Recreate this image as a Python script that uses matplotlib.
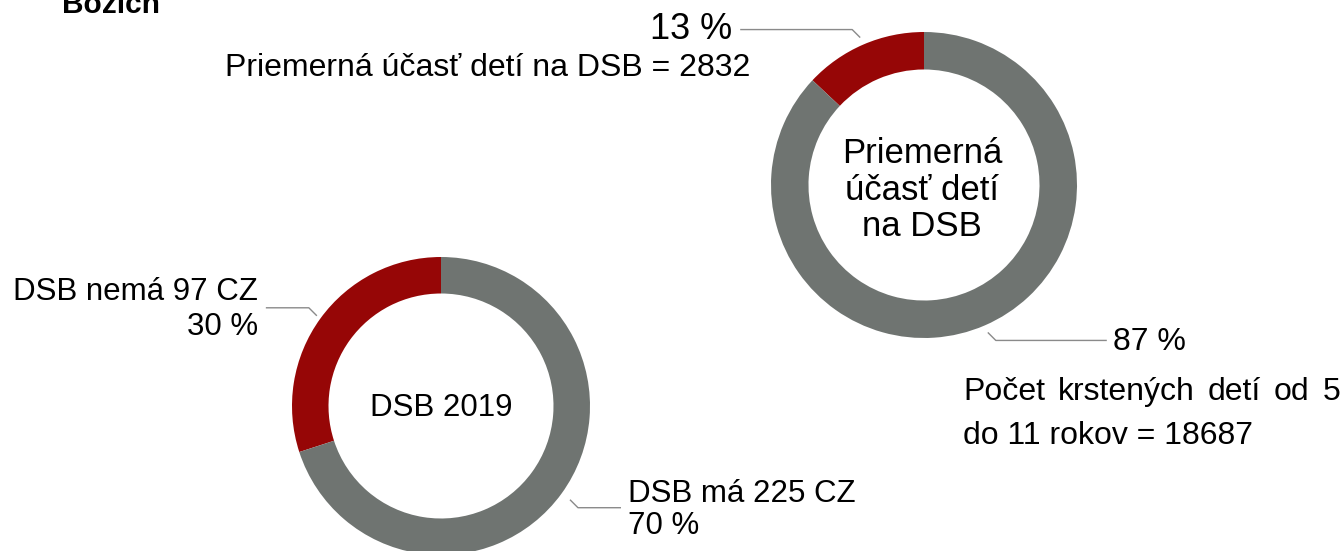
import matplotlib
matplotlib.use("Agg")
import matplotlib.pyplot as plt
import numpy as np

plt.rcParams['font.family'] = ['Liberation Sans', 'DejaVu Sans']

# data
top_shares = [13, 87]
top_labels = ["13 %", "87 %"]
top_center_label = "Priemerná\núčasť detí\nna DSB"
top_note_red = "Priemerná účasť detí na DSB = 2832"
top_note_gray = ["Počet krstených detí od 5", "do 11 rokov = 18687"]

bottom_counts = [97, 225]
bottom_shares = [30, 70]
bottom_labels = ["DSB nemá 97 CZ\n30 %", "DSB má 225 CZ\n70 %"]
bottom_center_label = "DSB 2019"

heading = "Božích"

RED = "#960606"
GRAY = "#6f7471"
LINE = "#8a8a8a"

W, H = 1342, 551
fig = plt.figure(figsize=(W / 100, H / 100), dpi=100)
ax = fig.add_axes([0, 0, 1, 1])


def py(y):
    # pixel row (from top) -> data y
    return H - y


def donut(cx, cy, r, shares):
    ax.pie(shares, colors=[RED, GRAY], startangle=90, counterclock=True,
           center=(cx, py(cy)), radius=r,
           wedgeprops=dict(width=r * 0.245, edgecolor='none', linewidth=0))


def leader(cx, cy, r, shares, i, length, k=1.05):
    tot = sum(shares)
    cum = sum(shares[:i])
    th = np.radians(90 + 360 * (cum + shares[i] / 2) / tot)
    x0 = cx + k * r * np.cos(th)
    y0 = py(cy) + k * r * np.sin(th)
    sx, sy = np.sign(np.cos(th)), np.sign(np.sin(th))
    x1, y1 = x0 + 8 * sx, y0 + 8 * sy
    x2 = x1 + length * sx
    ax.plot([x0, x1, x2], [y0, y1, y1], color=LINE, lw=1.0,
            solid_capstyle='butt')
    return x2, y1, sx


def justified(words, x0, x1, y, size):
    # spread words of one line evenly between x0 and x1 (pixels)
    rend = fig.canvas.get_renderer()
    arts = [ax.text(0, y, w, ha='left', va='center', fontsize=size)
            for w in words]
    widths = [a.get_window_extent(rend).width for a in arts]
    gap = (x1 - x0 - sum(widths)) / (len(words) - 1)
    x = x0
    for a, w in zip(arts, widths):
        a.set_x(x)
        x += w + gap


# top donut
tcx, tcy, tr = 924, 185, 153
donut(tcx, tcy, tr, top_shares)
ax.text(tcx - 2, py(tcy + 5), top_center_label, ha='center', va='center',
        fontsize=25, linespacing=1.15)

x, y, s = leader(tcx, tcy, tr, top_shares, 0, 112)
ax.text(x - 8, y, top_labels[0], ha='right', va='center', fontsize=26)
ax.text(750, py(68), top_note_red, ha='right', va='center', fontsize=23)

x, y, s = leader(tcx, tcy, tr, top_shares, 1, 111)
ax.text(x + 6, y - 2, top_labels[1], ha='left', va='center', fontsize=23)

ax.set_xlim(0, W)
ax.set_ylim(0, H)
justified(top_note_gray[0].split(" "), 963, 1340, py(392), 23)
ax.text(963, py(436), top_note_gray[1], ha='left', va='center', fontsize=23)

# bottom donut
bcx, bcy, br = 441, 406, 149
donut(bcx, bcy, br, bottom_shares)
ax.text(bcx, py(bcy + 2), bottom_center_label, ha='center', va='center',
        fontsize=22.5)

x, y, s = leader(bcx, bcy, br, bottom_shares, 0, 43, k=1.03)
ax.text(x - 8, y - 2, bottom_labels[0], ha='right', va='center',
        fontsize=22.5, linespacing=1.2, multialignment='right')

x, y, s = leader(bcx, bcy, br, bottom_shares, 1, 43, k=1.07)
ax.text(x + 7, y - 2, bottom_labels[1], ha='left', va='center',
        fontsize=22.5, linespacing=1.1)

ax.text(62, py(13), heading, ha='left', va='baseline', fontsize=21.5,
        fontweight='bold')

ax.set_xlim(0, W)
ax.set_ylim(0, H)
ax.set_aspect('equal')
ax.axis('off')

fig.savefig("out.png", dpi=100)
